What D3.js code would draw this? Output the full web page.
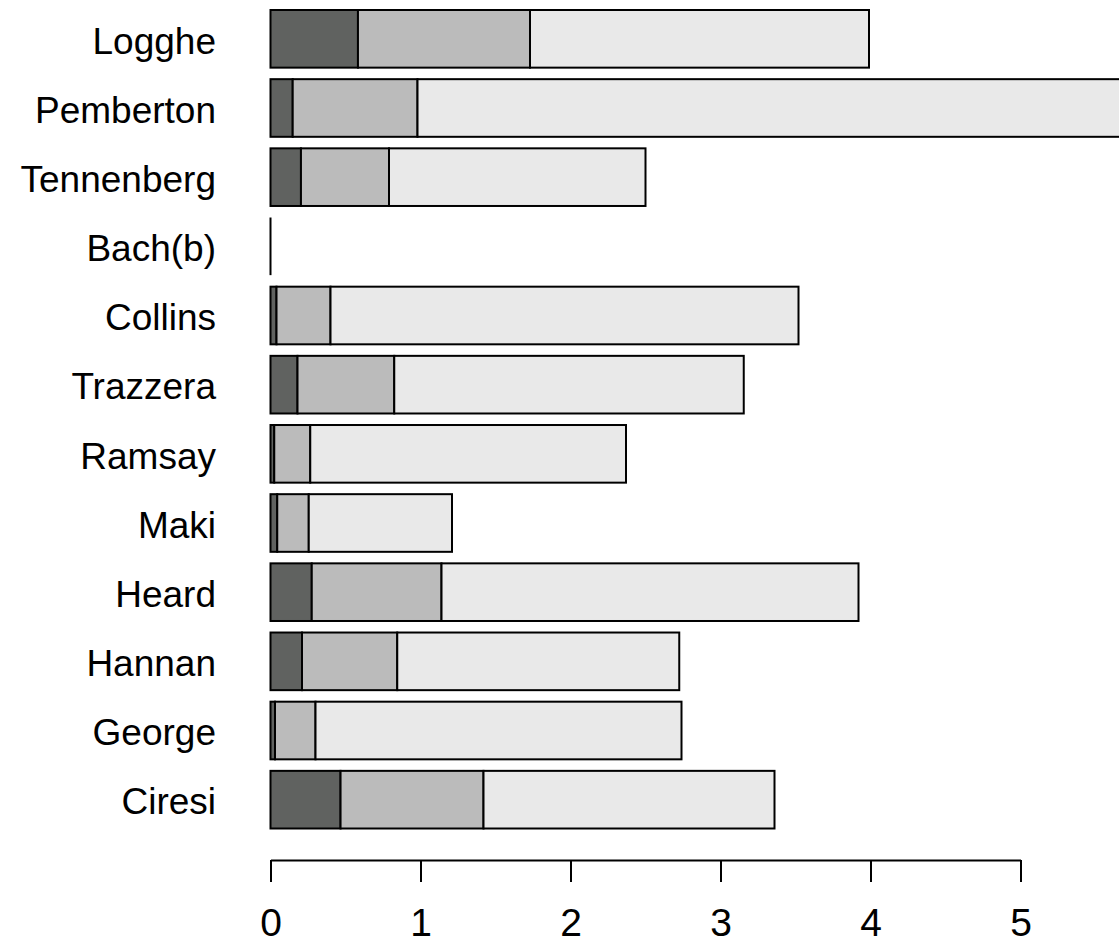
<!DOCTYPE html>
<html>
<head>
<meta charset="utf-8">
<script src="https://cdn.jsdelivr.net/npm/d3@7"></script>
<style>
  html, body { margin: 0; padding: 0; background: #ffffff; }
  svg { display: block; }
  text { font-family: "Liberation Sans", Arial, sans-serif; }
</style>
</head>
<body>
<div id="chart"></div>
<script>
// Categories, top to bottom
const categories = ["Logghe", "Pemberton", "Tennenberg", "Bach(b)", "Collins", "Trazzera",
                    "Ramsay", "Maki", "Heard", "Hannan", "George", "Ciresi"];

// Segment sizes for each stacked component (same order as categories)
const seriesA = [0.583, 0.148, 0.203, 0, 0.040, 0.180, 0.025, 0.045, 0.275, 0.210, 0.030, 0.467];
const seriesB = [1.147, 0.832, 0.587, 0, 0.360, 0.645, 0.240, 0.210, 0.865, 0.635, 0.270, 0.953];
const seriesC = [2.260, 5.020, 1.710, 0, 3.120, 2.330, 2.105, 0.955, 2.780, 1.880, 2.440, 1.940];

const seriesKeys = ["a", "b", "c"];
const seriesColors = ["#606260", "#bbbbbb", "#e9e9e9"];
const tickValues = [0, 1, 2, 3, 4, 5];

const W = 1119, H = 948;
const SW = 2;

const rows = categories.map((name, i) => ({
  name, a: seriesA[i], b: seriesB[i], c: seriesC[i]
}));

const svg = d3.select("#chart").append("svg")
  .attr("width", W).attr("height", H);

const x = d3.scaleLinear().domain([0, 5]).range([270.5, 1020.5]);
const y = d3.scaleBand().domain(categories)
  .range([10, 828.5]).paddingInner(1 / 6).paddingOuter(0);

const stacked = d3.stack().keys(seriesKeys)(rows);

// Stacked bars
const layers = svg.append("g").selectAll("g")
  .data(stacked).join("g")
  .attr("fill", (d, i) => seriesColors[i]);

layers.selectAll("rect")
  .data(d => d.filter(s => s[1] > s[0]))
  .join("rect")
  .attr("x", d => x(d[0]))
  .attr("y", d => y(d.data.name))
  .attr("width", d => x(d[1]) - x(d[0]))
  .attr("height", y.bandwidth())
  .attr("stroke", "#000")
  .attr("stroke-width", SW);

// Rows whose total is zero collapse to a single outline edge
svg.append("g").selectAll("line")
  .data(rows.filter(r => r.a + r.b + r.c === 0))
  .join("line")
  .attr("x1", x(0)).attr("x2", x(0))
  .attr("y1", d => y(d.name))
  .attr("y2", d => y(d.name) + y.bandwidth())
  .attr("stroke", "#000")
  .attr("stroke-width", SW);

// Category labels
svg.append("g").selectAll("text")
  .data(categories).join("text")
  .attr("x", 216)
  .attr("y", d => y(d) + y.bandwidth() / 2)
  .attr("dy", "0.4em")
  .attr("text-anchor", "end")
  .attr("font-size", 37)
  .attr("fill", "#000")
  .text(d => d);

// Value axis
const axis = d3.axisBottom(x)
  .tickValues(tickValues)
  .tickFormat(d3.format("d"))
  .tickSizeInner(22)
  .tickSizeOuter(0)
  .tickPadding(26);

const ax = svg.append("g")
  .attr("transform", "translate(0,860)")
  .call(axis);

ax.select(".domain").attr("stroke", "#000").attr("stroke-width", SW);
ax.selectAll(".tick line").attr("stroke", "#000").attr("stroke-width", SW);
ax.selectAll(".tick text")
  .attr("font-size", 39)
  .attr("font-family", "\"Liberation Sans\", Arial, sans-serif")
  .attr("fill", "#000");
</script>
</body>
</html>
